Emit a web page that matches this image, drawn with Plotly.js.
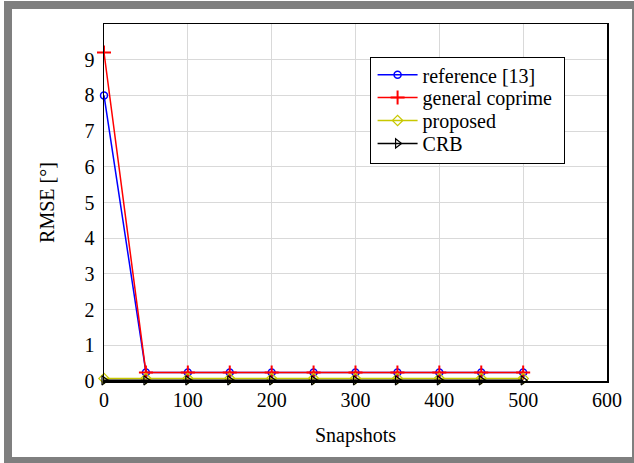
<!DOCTYPE html>
<html>
<head>
<meta charset="utf-8">
<script src="https://cdn.plot.ly/plotly-3.0.1.min.js"></script>
<style>
html,body{margin:0;padding:0;overflow:hidden;background:#fff;}
#chart{width:634px;height:463px;position:absolute;left:0;top:0;}
#frame{position:absolute;left:4px;top:1px;width:636px;height:464px;border:8px solid #7f7f7f;box-sizing:border-box;pointer-events:none;}
</style>
</head>
<body>
<div id="chart"></div>
<div id="frame"></div>
<script>
const snapshots = [0, 50, 100, 150, 200, 250, 300, 350, 400, 450, 500];
const referenceRMSE = [8.0, 0.24, 0.24, 0.24, 0.24, 0.24, 0.24, 0.24, 0.24, 0.24, 0.24];
const generalCoprimeRMSE = [9.2, 0.24, 0.24, 0.24, 0.24, 0.24, 0.24, 0.24, 0.24, 0.24, 0.24];
const proposedRMSE = [0.07, 0.07, 0.07, 0.07, 0.07, 0.07, 0.07, 0.07, 0.07, 0.07, 0.07];
const crbRMSE = [0.02, 0.02, 0.02, 0.02, 0.02, 0.02, 0.02, 0.02, 0.02, 0.02, 0.02];
const seriesNames = ['reference [13]', 'general coprime', 'proposed', 'CRB'];
const xTicks = [0, 100, 200, 300, 400, 500, 600];
const yTicks = [0, 1, 2, 3, 4, 5, 6, 7, 8, 9];

const font = 'Liberation Serif';
const traces = [
  {x: snapshots, y: referenceRMSE, name: seriesNames[0], mode: 'lines+markers',
   line: {color: '#0000ff', width: 1.5},
   marker: {symbol: 'circle-open', size: 7, color: '#0000ff', line: {width: 1.5}}},
  {x: snapshots, y: generalCoprimeRMSE, name: seriesNames[1], mode: 'lines+markers',
   line: {color: '#ff0000', width: 1.5},
   marker: {symbol: 'cross-thin-open', size: 10, color: '#ff0000', line: {width: 2, color: '#ff0000'}}},
  {x: snapshots, y: proposedRMSE, name: seriesNames[2], mode: 'lines+markers',
   line: {color: '#c8c800', width: 1.5},
   marker: {symbol: 'diamond-open', size: 8, color: '#c8c800', line: {width: 1.2}}},
  {x: snapshots, y: crbRMSE, name: seriesNames[3], mode: 'lines+markers',
   line: {color: '#000000', width: 1.5},
   marker: {symbol: 'triangle-right-open', size: 8, color: '#000000', line: {width: 1.2}}}
];

const layout = {
  width: 634, height: 463,
  margin: {l: 104, r: 27, t: 24, b: 81.5},
  paper_bgcolor: '#ffffff', plot_bgcolor: '#ffffff',
  font: {family: font, size: 20, color: '#000'},
  showlegend: true,
  legend: {x: 0.528, y: 0.907, xanchor: 'left', yanchor: 'top',
    bordercolor: '#000', borderwidth: 1, bgcolor: '#fff', itemwidth: 40,
    font: {family: font, size: 20}, tracegroupgap: 0},
  xaxis: {range: [0, 600], tickvals: xTicks, ticktext: xTicks.map(String),
    showgrid: true, gridcolor: '#d9d9d9', gridwidth: 1,
    showline: true, linecolor: '#000', linewidth: 1.5, mirror: true,
    zeroline: false, ticks: '', ticklabelstandoff: 0,
    title: {text: 'Snapshots', font: {family: font, size: 20}, standoff: 18}},
  yaxis: {range: [0, 10], tickvals: yTicks, ticktext: yTicks.map(String),
    showgrid: true, gridcolor: '#d9d9d9', gridwidth: 1,
    showline: true, linecolor: '#000', linewidth: 1.5, mirror: true,
    zeroline: false, ticks: '', ticklabelstandoff: 4,
    title: {text: 'RMSE [°]', font: {family: font, size: 20}, standoff: 24}}
};

traces.forEach(t => { t.cliponaxis = false; });
const gd = document.getElementById('chart');
Plotly.newPlot(gd, traces, layout, {staticPlot: true, displayModeBar: false}).then(() => {
  // tighten legend row spacing to match the reference
  const items = gd.querySelectorAll('.legend .traces');
  const rowTop = 17.5, rowGap = 22.9;
  items.forEach((el, i) => {
    const m = (el.getAttribute('transform') || '').match(/translate\(\s*([-\d.e]+)[ ,]+([-\d.e]+)\s*\)/);
    const tx = m ? parseFloat(m[1]) : 0;
    el.setAttribute('transform', 'translate(' + (tx + 2) + ',' + (rowTop + i * rowGap) + ')');
  });
  const bg = gd.querySelector('.legend rect.bg');
  if (bg) { bg.setAttribute('height', 106); bg.setAttribute('width', 194); }
  const sb = gd.querySelector('.legend .scrollbox');
  if (sb) sb.removeAttribute('clip-path');
});
</script>
</body>
</html>
